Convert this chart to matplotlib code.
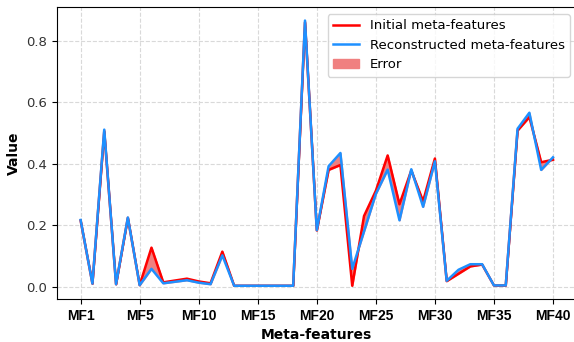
import numpy as np
import matplotlib
matplotlib.use("Agg")
import matplotlib.pyplot as plt

# Meta-feature values: original vs. autoencoder reconstruction
initial = [0.215, 0.010, 0.505, 0.008, 0.224, 0.005, 0.127, 0.014, 0.020, 0.026,
           0.017, 0.011, 0.114, 0.003, 0.003, 0.003, 0.003, 0.003, 0.003, 0.860,
           0.183, 0.380, 0.396, 0.003, 0.230, 0.312, 0.427, 0.268, 0.378, 0.278,
           0.417, 0.018, 0.042, 0.066, 0.072, 0.004, 0.004, 0.508, 0.552, 0.405,
           0.413]
reconstructed = [0.217, 0.010, 0.511, 0.008, 0.225, 0.005, 0.058, 0.011, 0.016, 0.021,
                 0.013, 0.008, 0.102, 0.003, 0.003, 0.003, 0.003, 0.003, 0.003, 0.866,
                 0.184, 0.392, 0.435, 0.058, 0.180, 0.302, 0.381, 0.216, 0.382, 0.260,
                 0.408, 0.019, 0.055, 0.073, 0.073, 0.004, 0.004, 0.514, 0.566, 0.380,
                 0.421]
tick_positions = [0, 5, 10, 15, 20, 25, 30, 35, 40]
tick_labels = ["MF1", "MF5", "MF10", "MF15", "MF20", "MF25", "MF30", "MF35", "MF40"]

x = np.arange(len(initial))
init = np.array(initial)
recon = np.array(reconstructed)

fig = plt.figure(figsize=(5.74, 3.42), dpi=100)
ax = fig.add_axes([57 / 574, 43 / 342, 519.6 / 574, 291.7 / 342])

ax.fill_between(x, init, recon, color="lightcoral", label="Error", zorder=2)
ax.plot(x, init, color="red", lw=1.8, label="Initial meta-features", zorder=3)
ax.plot(x, recon, color="#1E90FF", lw=1.8, label="Reconstructed meta-features", zorder=4)

ax.set_xticks(tick_positions)
ax.set_xticklabels(tick_labels, fontfamily="Liberation Sans", fontweight="bold", fontsize=10)
ax.tick_params(axis="y", labelsize=9.5, labelcolor="#333333")
ax.grid(True, linestyle="--", color="#d9d9d9", lw=0.8)
ax.set_axisbelow(True)

ax.set_xlabel("Meta-features", fontweight="bold", fontsize=10)
ax.set_ylabel("Value", fontweight="bold", fontsize=10)

handles, labels = ax.get_legend_handles_labels()
order = [labels.index("Initial meta-features"),
         labels.index("Reconstructed meta-features"),
         labels.index("Error")]
ax.legend([handles[i] for i in order], [labels[i] for i in order],
          loc="upper right", fontsize=9.5)

fig.savefig("out.png", dpi=100)
